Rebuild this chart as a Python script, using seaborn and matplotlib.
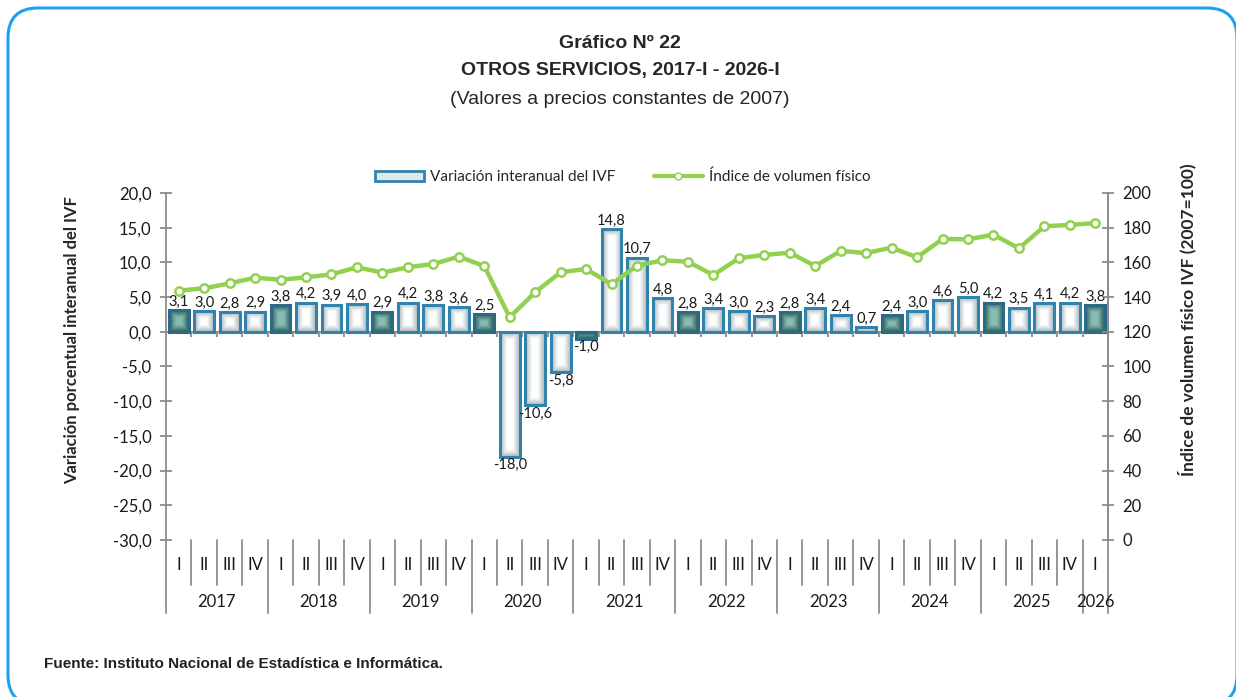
import numpy as np
import pandas as pd
import matplotlib
matplotlib.use("Agg")
import matplotlib.pyplot as plt
import seaborn as sns
from matplotlib.patches import FancyBboxPatch, Patch
from matplotlib.lines import Line2D
from matplotlib.ticker import FuncFormatter
from matplotlib.transforms import blended_transform_factory, IdentityTransform
from matplotlib.colors import to_rgb

# datos
years = ["2017", "2018", "2019", "2020", "2021", "2022", "2023", "2024", "2025", "2026"]
quarters = ["I", "II", "III", "IV"] * 9 + ["I"]
variacion = [3.1, 3.0, 2.8, 2.9,
             3.8, 4.2, 3.9, 4.0,
             2.9, 4.2, 3.8, 3.6,
             2.5, -18.0, -10.6, -5.8,
             -1.0, 14.8, 10.7, 4.8,
             2.8, 3.4, 3.0, 2.3,
             2.8, 3.4, 2.4, 0.7,
             2.4, 3.0, 4.6, 5.0,
             4.2, 3.5, 4.1, 4.2,
             3.8]
ivf = [143.7, 145.1, 147.9, 151.2,
       150.0, 151.4, 153.1, 157.2,
       154.1, 157.2, 159.1, 163.3,
       157.9, 128.4, 142.8, 154.3,
       156.2, 147.4, 158.1, 161.2,
       160.4, 152.7, 162.4, 164.3,
       165.6, 157.9, 166.6, 165.4,
       168.5, 162.9, 173.5, 173.3,
       176.0, 168.1, 180.8, 181.6,
       182.7]

df = pd.DataFrame({"pos": range(len(variacion)), "trim": quarters,
                   "var": variacion, "ivf": ivf})

sns.set_theme(style="white")
plt.rcParams["font.family"] = ["Lato", "DejaVu Sans"]

fig = plt.figure(figsize=(12.36, 6.97), dpi=100)
W, H = 1236, 697
ax = fig.add_axes([166 / W, 1 - 540 / H, 942 / W, 347 / H])
ax.set_facecolor("none")

# barras
sns.barplot(data=df, x="pos", y="var", ax=ax, width=0.78, color="white")
bars = ax.containers[0]

grey = "#8c8c8c"
px_x = 942 / 37.0
px_y = 347 / 50.0
for i, p in enumerate(bars.patches):
    dark = quarters[i] == "I"
    x0, w = p.get_x(), p.get_width()
    ya, yb = sorted([p.get_y(), p.get_y() + p.get_height()])
    nx = 40
    ny = max(4, int((yb - ya) * px_y * 2))
    gx = np.linspace(0, w * px_x, nx)
    gy = np.linspace(0, (yb - ya) * px_y, ny)
    dx = np.minimum(gx, gx[-1] - gx)[None, :]
    dy = np.minimum(gy, gy[-1] - gy)[:, None]
    t = np.clip(np.minimum(dx, dy) / 7.0, 0, 1)[..., None]
    if dark:
        edge_c, mid_c, border = to_rgb("#2c5c5b"), to_rgb("#86bdb3"), "#2a6a86"
    else:
        edge_c, mid_c, border = to_rgb("#a9b6bb"), to_rgb("#ffffff"), "#3183ab"
    img = np.array(edge_c) + (np.array(mid_c) - np.array(edge_c)) * t
    ax.imshow(img, extent=(x0, x0 + w, ya, yb), origin="lower",
              aspect="auto", interpolation="bilinear", zorder=2)
    p.set_facecolor("none")
    p.set_edgecolor(border)
    p.set_linewidth(2.2)
    p.set_zorder(3)

labels = [f"{v:.1f}".replace(".", ",") for v in variacion]
ax.bar_label(bars, labels=labels, padding=1, fontsize=10.5, color="#1a1a1a")

ax.axhline(0, color=grey, lw=1.5, zorder=1)
ax.vlines([k - 0.5 for k in range(1, 37)], -0.7, 0, color=grey, lw=1.3, zorder=1)

ax.set_ylim(-30, 20)
ax.set_yticks(range(-30, 21, 5))
ax.yaxis.set_major_formatter(FuncFormatter(lambda v, _: f"{v:.1f}".replace(".", ",")))
ax.set_xlim(-0.5, 36.5)
ax.set_xticks(range(37))
ax.set_xticklabels(quarters)
ax.tick_params(axis="x", length=0, pad=12, labelsize=12, labelcolor="#1a1a1a")
ax.tick_params(axis="y", direction="inout", length=9, width=1.3, color=grey,
               labelsize=12, labelcolor="#1a1a1a", pad=6)
ax.set_xlabel("")
ax.set_ylabel("")
for s in ["top", "bottom"]:
    ax.spines[s].set_visible(False)
for s in ["left", "right"]:
    ax.spines[s].set_color(grey)
    ax.spines[s].set_linewidth(1.3)

# separadores de trimestres y años
tr = blended_transform_factory(ax.transData, ax.transAxes)
for k in range(0, 38):
    low = -0.21 if k % 4 == 0 or k == 37 else -0.13
    ax.plot([k - 0.5, k - 0.5], [0, low], transform=tr, color=grey,
            lw=1.3, clip_on=False)
for j, yr in enumerate(years):
    cx = 4 * j + 1.5 if yr != "2026" else 36
    ax.text(cx, -0.178, yr, transform=tr, ha="center", va="center",
            fontsize=12, color="#1a1a1a")

# linea IVF
ax2 = ax.twinx()
sns.lineplot(data=df, x="pos", y="ivf", ax=ax2, color="#92d050", lw=3.2,
             marker="o", markersize=6, markerfacecolor="white",
             markeredgecolor="#92d050", markeredgewidth=1.8, zorder=5)
ax2.set_ylim(0, 200)
ax2.set_yticks(range(0, 201, 20))
ax2.set_ylabel("")
ax2.set_xlabel("")
ax2.tick_params(axis="y", direction="inout", length=9, width=1.3, color=grey,
                labelsize=12, labelcolor="#1a1a1a", pad=6)
for s in ["top", "bottom", "left"]:
    ax2.spines[s].set_visible(False)
ax2.spines["right"].set_color(grey)
ax2.spines["right"].set_linewidth(1.3)
ax2.set_xlim(-0.5, 36.5)

# leyenda
h_bar = Patch(facecolor="#dfe8ec", edgecolor="#3183ab", lw=2)
h_line = Line2D([], [], color="#92d050", lw=3, marker="o", markersize=5,
                markerfacecolor="white", markeredgecolor="#92d050")
fig.legend([h_bar, h_line], ["Variación interanual del IVF", "Índice de volumen físico"],
           loc="center", bbox_to_anchor=(623 / W, 1 - 177 / H), ncol=2,
           frameon=False, fontsize=11, handlelength=3.2, columnspacing=2.5,
           handletextpad=0.4)

# textos
title_font = ["Liberation Sans Narrow", "Liberation Sans"]
fig.text(620 / W, 1 - 43 / H, "Gráfico Nº 22", ha="center", va="center",
         fontsize=14, fontweight="bold", family=title_font)
fig.text(620 / W, 1 - 71 / H, "OTROS SERVICIOS, 2017-I - 2026-I", ha="center",
         va="center", fontsize=14, fontweight="bold", family=title_font)
fig.text(620 / W, 1 - 99 / H, "(Valores a precios constantes de 2007)", ha="center",
         va="center", fontsize=14, family=title_font)
fig.text(72 / W, 1 - 340 / H, "Variación porcentual interanual del IVF",
         rotation=90, ha="center", va="center", fontsize=12, fontweight="bold")
fig.text(1187 / W, 1 - 320 / H, "Índice de volumen físico IVF (2007=100)",
         rotation=90, ha="center", va="center", fontsize=12.5, fontweight="bold")
fig.text(44 / W, 1 - 664 / H, "Fuente: Instituto Nacional de Estadística e Informática.",
         ha="left", va="center", fontsize=11, fontweight="bold", family=title_font,
         color="#222222")

# marco redondeado (en pixeles)
frame = FancyBboxPatch((8, -8), 1229, 697, boxstyle="round,pad=0,rounding_size=30",
                       transform=IdentityTransform(), fill=False,
                       edgecolor="#1ea0f0", lw=2.2, clip_on=False)
fig.patches.append(frame)

fig.savefig("out.png", dpi=100)
